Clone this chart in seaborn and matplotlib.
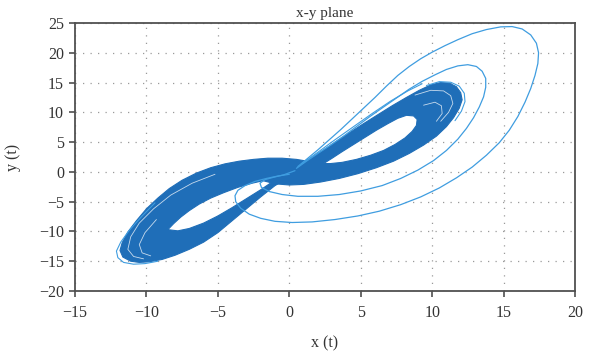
import numpy as np
import pandas as pd
import matplotlib
matplotlib.use("Agg")
import matplotlib.pyplot as plt
import seaborn as sns
from matplotlib.path import Path
from matplotlib.patches import PathPatch

# ---------------- data ----------------
title = "x-y plane"
x_label = "x (t)"
y_label = "y (t)"
x_ticks = [-15, -10, -5, 0, 5, 10, 15, 20]
y_ticks = [-20, -15, -10, -5, 0, 5, 10, 15, 20, 25]

# dense band of the left wing: outer contour and hole
left_outer_x = [1.5, 0.5, -0.5, -1.5, -2.5, -3.5, -4.5, -5.5, -6.5, -7.5, -8.4, -9.2, -10.0, -10.7,
                -11.3, -11.7, -11.85, -11.65, -11.1, -10.5, -9.8, -8.9, -8.0, -7.0, -6.0, -5.0, -4.0,
                -3.0, -2.0, -1.0, -0.2, 0.5, 1.5]
left_outer_y = [1.7, 2.1, 2.3, 2.3, 2.1, 1.8, 1.35, 0.7, -0.2, -1.4, -2.8, -4.4, -6.2, -8.2,
                -10.1, -11.9, -13.2, -14.3, -15.0, -15.2, -15.1, -14.7, -14.0, -13.0, -11.8, -10.2, -8.2,
                -6.2, -4.2, -2.3, -1.2, -0.4, 0.6]
left_hole_x = [-8.5, -8.1, -7.6, -7.0, -6.3, -5.5, -4.6, -3.6, -2.6, -1.6, -0.8, -1.2, -2.0, -3.0,
               -4.0, -5.0, -6.0, -7.0, -7.8, -8.5]
left_hole_y = [-9.7, -8.7, -7.6, -6.5, -5.4, -4.4, -3.5, -2.6, -1.9, -1.35, -1.0, -1.7, -3.0, -4.5,
               -6.0, -7.4, -8.6, -9.5, -9.9, -9.7]

# dense band of the right wing: outer contour and hole
right_outer_x = [0.3, 1.0, 1.8, 2.6, 3.4, 4.3, 5.2, 6.2, 7.2, 8.2, 9.1, 9.9, 10.6, 11.2, 11.7, 12.0,
                 12.1, 11.9, 11.5, 11.0, 10.3, 9.4, 8.4, 7.3, 6.1, 4.8, 3.5, 2.2, 1.0, 0.0, -1.0, -1.8,
                 -1.5, -0.5]
right_outer_y = [0.6, 1.5, 2.7, 4.0, 5.3, 6.7, 8.1, 9.6, 11.1, 12.5, 13.7, 14.6, 15.0, 14.9, 14.3, 13.3,
                 12.1, 10.7, 9.1, 7.6, 6.0, 4.5, 3.1, 1.8, 0.7, -0.3, -1.1, -1.7, -2.1, -2.2, -2.0, -1.5,
                 -0.5, 0.2]
right_hole_x = [2.4, 3.0, 3.7, 4.5, 5.3, 6.1, 6.9, 7.6, 8.2, 8.7, 8.95, 8.9, 8.6, 8.1, 7.4, 6.6, 5.7,
                4.7, 3.7, 2.9, 2.4]
right_hole_y = [1.4, 2.3, 3.4, 4.6, 5.8, 7.0, 8.1, 9.0, 9.5, 9.4, 8.8, 7.8, 6.8, 5.7, 4.6, 3.6, 2.8,
                2.1, 1.6, 1.4, 1.4]

# thin outer fringe loops of the attractor
fringe_left_x = [-9.4, -10.3, -11.2, -11.8, -12.1, -12.0, -11.6, -10.9, -10.1, -9.2]
fringe_left_y = [-5.2, -7.4, -9.8, -11.8, -13.3, -14.4, -15.2, -15.5, -15.4, -15.0]
fringe_right_x = [9.6, 10.5, 11.3, 11.9, 12.25, 12.3, 12.05, 11.6]
fringe_right_y = [14.5, 15.15, 15.05, 14.4, 13.2, 11.8, 10.2, 8.6]
fringe_tongue_x = [0.9, 2.0, 3.2, 4.5, 5.8, 7.1, 8.3, 9.3]
fringe_tongue_y = [1.4, 3.3, 5.4, 7.6, 9.8, 11.9, 13.6, 14.8]

# light gaps inside the dense bands
gap1_x = [-5.2, -6.8, -8.3, -9.5, -10.5, -11.1, -11.3, -10.9, -10.2]
gap1_y = [-0.4, -1.9, -3.9, -6.2, -8.6, -10.9, -13.0, -14.2, -14.6]
gap2_x = [-9.3, -10.1, -10.5, -10.3, -9.7]
gap2_y = [-8.0, -10.2, -12.2, -13.6, -14.1]
gap3_x = [8.8, 9.9, 10.8, 11.3, 11.45, 11.15, 10.6]
gap3_y = [12.9, 13.7, 13.6, 12.8, 11.5, 10.0, 8.5]
gap4_x = [9.4, 10.2, 10.65, 10.7, 10.3]
gap4_y = [11.2, 11.7, 11.1, 9.8, 8.5]

# transient trajectory: first large loop, then second loop, then into the attractor
loop1_x = [0.6, 1.3, 2.0, 2.8, 3.6, 4.4, 5.2, 6.0, 6.8, 7.6, 8.4, 9.2, 10.0, 10.9, 11.8, 12.8, 13.8,
           14.8, 15.6, 16.3, 16.9, 17.3, 17.45, 17.4, 17.2, 16.9, 16.5, 16.0, 15.4, 14.7, 13.8, 12.8,
           11.7, 10.5, 9.2, 7.8, 6.3, 4.8, 3.2, 1.6, 0.2, -1.0, -2.0, -2.8, -3.4, -3.75, -3.8, -3.6,
           -3.1, -2.4, -1.6, -0.8, 0.0]
loop1_y = [0.9, 2.3, 3.7, 5.4, 7.1, 8.9, 10.7, 12.5, 14.4, 16.2, 17.7, 19.0, 20.1, 21.2, 22.2, 23.2, 23.9,
           24.35, 24.4, 24.0, 23.0, 21.6, 20.0, 18.2, 16.2, 14.0, 11.7, 9.3, 7.0, 4.9, 2.8, 0.8,
           -1.0, -2.7, -4.2, -5.5, -6.6, -7.4, -8.0, -8.4, -8.5, -8.3, -7.8, -7.1, -6.1, -5.0, -4.0, -3.1,
           -2.3, -1.6, -1.1, -0.7, -0.4]
loop2_x = [0.5, 1.2, 2.0, 2.9, 3.8, 4.7, 5.65, 6.6, 7.5, 8.4, 9.3, 10.2, 11.0, 11.8, 12.5, 13.1, 13.5,
           13.75, 13.75, 13.6, 13.3, 12.9, 12.4, 11.8, 11.0, 10.1, 9.0, 7.8, 6.5, 5.0, 3.5, 2.0, 0.6,
           -0.5, -1.4, -1.95, -2.05, -1.7, -1.1, -0.4, 0.4]
loop2_y = [0.6, 1.8, 3.1, 4.5, 6.0, 7.6, 9.3, 10.9, 12.4, 13.9, 15.2, 16.3, 17.2, 17.8, 18.0, 17.7, 16.9,
           15.7, 14.2, 12.6, 10.9, 9.1, 7.3, 5.5, 3.6, 1.9, 0.3, -1.1, -2.3, -3.2, -3.8, -4.1, -4.1,
           -3.8, -3.3, -2.6, -1.9, -1.3, -0.9, -0.5, 0.2]

# ---------------- styling ----------------
sns.set_theme(style="white")
plt.rcParams["font.family"] = ["Liberation Serif", "DejaVu Serif"]
plt.rcParams["axes.unicode_minus"] = True

dense = "#1f6eb8"
thin = "#3f9de0"
grid_c = "#9a9a9a"

fig = plt.figure(figsize=(6.0, 3.54), dpi=100)
ax = fig.add_axes([75 / 600, 1 - 291 / 354, 500 / 600, 268 / 354])


def band_path(ox, oy, hx, hy):
    outer = np.column_stack([ox, oy])
    hole = np.column_stack([hx, hy])

    def area(p):
        return 0.5 * np.sum(p[:, 0] * np.roll(p[:, 1], -1) - np.roll(p[:, 0], -1) * p[:, 1])

    if np.sign(area(outer)) == np.sign(area(hole)):
        hole = hole[::-1]
    verts, codes = [], []
    for ring in (outer, hole):
        verts.extend(ring.tolist())
        verts.append(ring[0].tolist())
        codes.extend([Path.MOVETO] + [Path.LINETO] * (len(ring) - 1) + [Path.CLOSEPOLY])
    return Path(verts, codes)


for ox, oy, hx, hy in [(left_outer_x, left_outer_y, left_hole_x, left_hole_y),
                       (right_outer_x, right_outer_y, right_hole_x, right_hole_y)]:
    ax.add_patch(PathPatch(band_path(ox, oy, hx, hy), facecolor=dense, edgecolor=dense,
                           lw=0.8, zorder=3, joinstyle="round"))


def line(xs, ys, color, lw, z=4, alpha=1.0):
    df = pd.DataFrame({"x": xs, "y": ys})
    sns.lineplot(data=df, x="x", y="y", sort=False, estimator=None, ax=ax, color=color,
                 lw=lw, zorder=z, alpha=alpha, solid_joinstyle="round")


for xs, ys in [(fringe_left_x, fringe_left_y), (fringe_right_x, fringe_right_y),
               (fringe_tongue_x, fringe_tongue_y)]:
    line(xs, ys, thin, 0.8)
for xs, ys in [(gap1_x, gap1_y), (gap2_x, gap2_y), (gap3_x, gap3_y), (gap4_x, gap4_y)]:
    line(xs, ys, "white", 0.6, z=5, alpha=0.75)
for xs, ys in [(loop1_x, loop1_y), (loop2_x, loop2_y)]:
    line(xs, ys, thin, 0.9)

ax.set_xlim(-15, 20)
ax.set_ylim(-20, 25)
ax.set_xticks(x_ticks)
ax.set_yticks(y_ticks)
ax.set_xticklabels([str(t).replace("-", "\u2212") for t in x_ticks], fontsize=11.5)
ax.set_yticklabels([str(t).replace("-", "\u2212") for t in y_ticks], fontsize=11.5)
ax.grid(True, color=grid_c, linestyle=(0, (1, 5)), lw=0.9)
ax.set_axisbelow(True)
for s in ax.spines.values():
    s.set_visible(True)
    s.set_color("#505050")
    s.set_linewidth(1.3)
ax.tick_params(direction="out", length=4, width=1.1, color="#404040", labelcolor="#333333",
               bottom=True, left=True, top=False, right=False)
ax.tick_params(axis="x", pad=6)
ax.tick_params(axis="y", pad=4)
ax.set_title(title, fontsize=11, color="#333333", pad=4)
ax.set_xlabel(x_label, fontsize=11.5, color="#333333")
ax.set_ylabel(y_label, fontsize=11.5, color="#333333")
ax.xaxis.set_label_coords(0.5, -0.165)
ax.yaxis.set_label_coords(-0.108, 0.5)

fig.savefig("out.png", dpi=100)
